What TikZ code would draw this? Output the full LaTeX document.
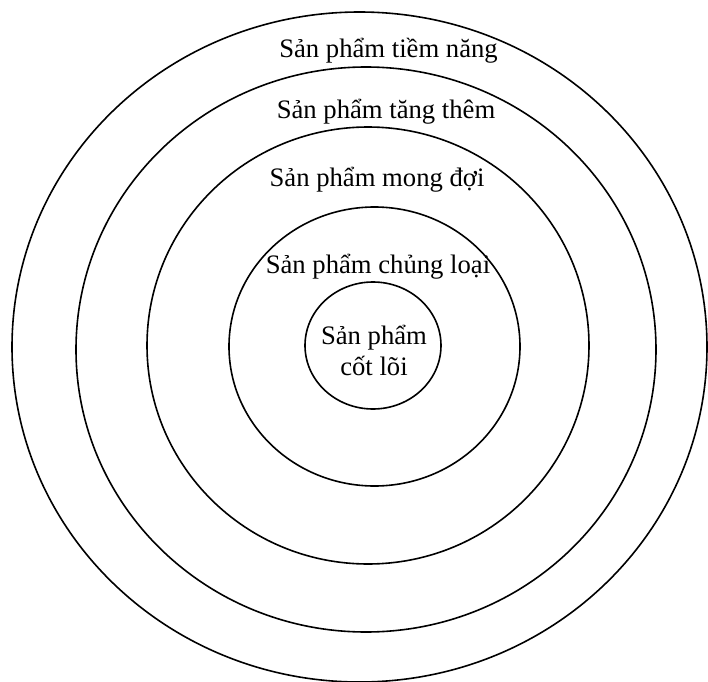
\documentclass[tikz,border=0pt]{standalone}
\usepackage{fontspec}
\setmainfont{Liberation Serif}
\usetikzlibrary{positioning,shapes.geometric}

\begin{document}
\begin{tikzpicture}[x=0.75pt,y=-0.75pt,
  ring/.style={draw,ellipse,line width=1.2pt,inner sep=0pt,outer sep=0pt},
  lbl/.style={font=\fontsize{20}{23.5}\selectfont,align=center,inner sep=0pt}]
  \useasboundingbox (0,0) rectangle (708,682);
  % rings, outside to inside
  \node (tiemnang) [ring,minimum width=521.25pt,minimum height=502.5pt] at (359.5,347) {};
  \node (tangthem) [ring,minimum width=435pt,minimum height=423.75pt] at (366,349.5) {};
  \node (mongdoi) [ring,minimum width=331.5pt,minimum height=327.75pt] at (368,345.5) {};
  \node (chungloai) [ring,minimum width=218.25pt,minimum height=209.25pt] at (374.5,346.5) {};
  \node (cotloi) [ring,minimum width=102pt,minimum height=95.25pt] at (373,345.5) {};
  % labels
  \node (ltiemnang) [lbl] at (388.5,51) {Sản phẩm tiềm năng};
  \node (ltangthem) [lbl] at (386,112) {Sản phẩm tăng thêm};
  \node (lmongdoi) [lbl] at (377,180) {Sản phẩm mong đợi};
  \node (lchungloai) [lbl] at (378,267) {Sản phẩm chủng loại};
  \node (lcotloi) [lbl] at (374,350.5) {Sản phẩm\\cốt lõi};
\end{tikzpicture}
\end{document}
